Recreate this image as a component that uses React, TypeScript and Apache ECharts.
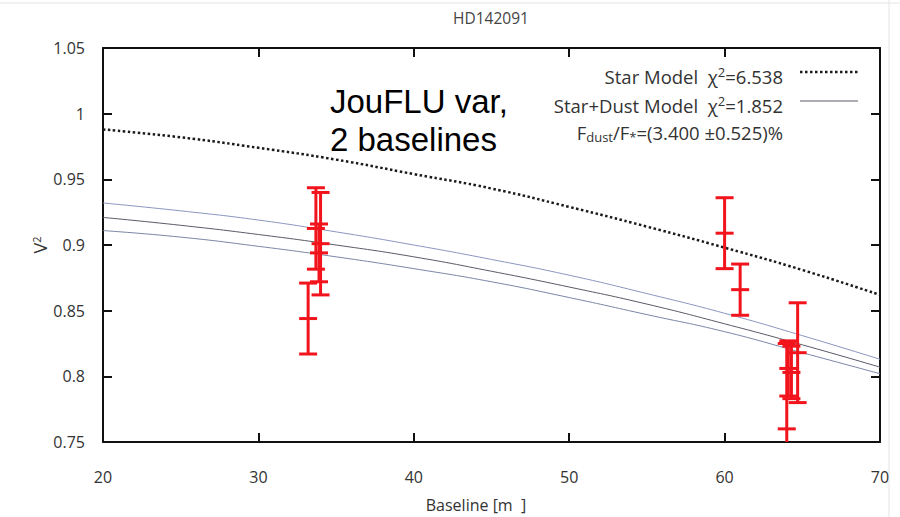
import React, { useEffect, useRef } from 'react';
import * as echarts from 'echarts';

const modelBaselines = [20, 25, 30, 35, 40, 45, 50, 55, 60, 65, 70];
const starModel = [0.988, 0.982, 0.974, 0.965, 0.954, 0.943, 0.929, 0.914, 0.898, 0.881, 0.862];
const dustUpper = [0.932, 0.926, 0.919, 0.910, 0.900, 0.889, 0.877, 0.863, 0.848, 0.831, 0.813];
const dustMid = [0.921, 0.915, 0.908, 0.900, 0.891, 0.880, 0.868, 0.855, 0.840, 0.824, 0.807];
const dustLower = [0.911, 0.906, 0.899, 0.891, 0.882, 0.872, 0.860, 0.847, 0.834, 0.818, 0.802];

// Observations
const obsBaseline = [33.7, 34.0, 33.9, 33.2, 60.0, 61.0, 64.7, 64.0, 64.1, 64.3];
const obsV2 = [0.9126, 0.901, 0.894, 0.844, 0.909, 0.866, 0.818, 0.760, 0.806, 0.803];
const obsErr = [0.031, 0.039, 0.022, 0.027, 0.027, 0.0195, 0.038, 0.065, 0.021, 0.02];

const title = 'HD142091';
const xName = 'Baseline [m  ]';

export default function App() {
  const ref = useRef<HTMLDivElement>(null);
  useEffect(() => {
    const chart = echarts.init(ref.current!, null, { renderer: 'svg' });
    const font = "'Open Sans', 'Noto Sans', sans-serif";
    const pairs = (ys: number[]) => modelBaselines.map((b, i) => [b, ys[i]]);
    const obsData = obsBaseline.map((b, i) => [b, obsV2[i], obsV2[i] - obsErr[i], obsV2[i] + obsErr[i]]);
    const red = '#f2141c';
    const axisLine = { show: true, onZero: false, lineStyle: { color: '#111', width: 2 } };
    const axisTick = { show: true, inside: true, length: 9, lineStyle: { color: '#111', width: 2 } };
    const labelStyle = { color: '#333', fontSize: 16, fontFamily: font };
    const legendFs = 18.5;
    const supStyle = { fontSize: 13, fill: '#333', fontFamily: font, verticalAlign: 'top', padding: [0, 0, 9, 0] };

    chart.setOption({
      animation: false,
      backgroundColor: '#fff',
      grid: { left: 103, right: 20, top: 48, bottom: 75, containLabel: false },
      xAxis: [
        {
          type: 'value', min: 20, max: 70, interval: 10, position: 'bottom',
          axisLine, axisTick, splitLine: { show: false },
          axisLabel: { ...labelStyle, margin: 27 },
        },
        {
          type: 'value', min: 20, max: 70, interval: 10, position: 'top',
          axisLine, axisTick, splitLine: { show: false }, axisLabel: { show: false },
        },
      ],
      yAxis: [
        {
          type: 'value', min: 0.75, max: 1.05, interval: 0.05, position: 'left',
          axisLine, axisTick, splitLine: { show: false },
          axisLabel: { ...labelStyle, margin: 18 },
        },
        {
          type: 'value', min: 0.75, max: 1.05, interval: 0.05, position: 'right',
          axisLine, axisTick, splitLine: { show: false }, axisLabel: { show: false },
        },
      ],
      series: [
        {
          type: 'line', name: 'Star Model', data: pairs(starModel), smooth: true, showSymbol: false,
          lineStyle: { color: '#1a1a1a', width: 2.5, type: [2.5, 2.5] }, z: 3,
        },
        {
          type: 'line', name: 'upper', data: pairs(dustUpper), smooth: true, showSymbol: false,
          lineStyle: { color: '#8a96c0', width: 1 }, z: 2,
        },
        {
          type: 'line', name: 'Star+Dust Model', data: pairs(dustMid), smooth: true, showSymbol: false,
          lineStyle: { color: '#5a5a66', width: 1 }, z: 2,
        },
        {
          type: 'line', name: 'lower', data: pairs(dustLower), smooth: true, showSymbol: false,
          lineStyle: { color: '#7b86a6', width: 1 }, z: 2,
        },
        {
          type: 'custom', name: 'obs', clip: true, z: 5,
          data: obsData,
          encode: { x: 0, y: [1, 2, 3] },
          renderItem: (params: any, api: any) => {
            const x = api.value(0);
            const c = api.coord([x, api.value(1)]);
            const lo = api.coord([x, api.value(2)]);
            const hi = api.coord([x, api.value(3)]);
            const hw = 9;
            const style = { stroke: red, lineWidth: 3, fill: 'none' };
            return {
              type: 'group',
              children: [
                { type: 'line', shape: { x1: c[0], y1: hi[1], x2: c[0], y2: lo[1] }, style },
                { type: 'line', shape: { x1: c[0] - hw, y1: hi[1], x2: c[0] + hw, y2: hi[1] }, style },
                { type: 'line', shape: { x1: c[0] - hw, y1: lo[1], x2: c[0] + hw, y2: lo[1] }, style },
                { type: 'line', shape: { x1: c[0] - hw, y1: c[1], x2: c[0] + hw, y2: c[1] }, style },
              ],
            };
          },
        },
      ],
      graphic: [
        { type: 'line', shape: { x1: 0, y1: 3, x2: 900, y2: 3 }, style: { stroke: '#e4e4e4', lineWidth: 1 } },
        { type: 'line', shape: { x1: 889, y1: 0, x2: 889, y2: 517 }, style: { stroke: '#e4e4e4', lineWidth: 1 } },
        {
          type: 'text', x: 491, y: 18,
          style: { text: title, fontSize: 15.5, fill: '#444', fontFamily: font, align: 'center', verticalAlign: 'middle' },
        },
        {
          type: 'text', x: 476, y: 505,
          style: { text: xName, fontSize: 16, fill: '#333', fontFamily: font, align: 'center', verticalAlign: 'middle' },
        },
        {
          type: 'text', x: 40, y: 245, rotation: Math.PI / 2,
          style: {
            text: 'V{s|2}', fontSize: 18, fill: '#333', fontFamily: font, align: 'center', verticalAlign: 'middle',
            rich: { s: { fontSize: 11, fill: '#333', fontFamily: font, verticalAlign: 'top', padding: [0, 0, 8, 0] } },
          },
        },
        {
          type: 'text', x: 330, y: 101,
          style: { text: 'JouFLU var,', fontSize: 33, fill: '#000', fontFamily: "'Liberation Sans', Arial, sans-serif", align: 'left', verticalAlign: 'middle' },
        },
        {
          type: 'text', x: 330, y: 139,
          style: { text: '2 baselines', fontSize: 33, fill: '#000', fontFamily: "'Liberation Sans', Arial, sans-serif", align: 'left', verticalAlign: 'middle' },
        },
        {
          type: 'text', x: 783, y: 76,
          style: {
            text: 'Star Model  χ{s|2}=6.538', fontSize: legendFs, fill: '#333', fontFamily: font, align: 'right', verticalAlign: 'middle',
            rich: { s: supStyle },
          },
        },
        {
          type: 'text', x: 783, y: 105,
          style: {
            text: 'Star+Dust Model  χ{s|2}=1.852', fontSize: legendFs, fill: '#333', fontFamily: font, align: 'right', verticalAlign: 'middle',
            rich: { s: supStyle },
          },
        },
        {
          type: 'text', x: 783, y: 132,
          style: {
            text: 'F{d|dust}/F{d|*}=(3.400 ±0.525)%', fontSize: legendFs, fill: '#333', fontFamily: font, align: 'right', verticalAlign: 'middle',
            rich: { d: { fontSize: 13, fill: '#333', fontFamily: font, verticalAlign: 'bottom', padding: [9, 0, 0, 0] } },
          },
        },
        { type: 'line', shape: { x1: 800, y1: 72, x2: 858, y2: 72 }, style: { stroke: '#1a1a1a', lineWidth: 2.5, lineDash: [2.5, 2.5] } },
        { type: 'line', shape: { x1: 800, y1: 101, x2: 858, y2: 101 }, style: { stroke: '#5a5a66', lineWidth: 1 } },
      ],
    });
    return () => chart.dispose();
  }, []);
  return <div ref={ref} style={{ position: 'fixed', left: 0, top: 0, width: 900, height: 517, background: '#fff' }} />;
}
